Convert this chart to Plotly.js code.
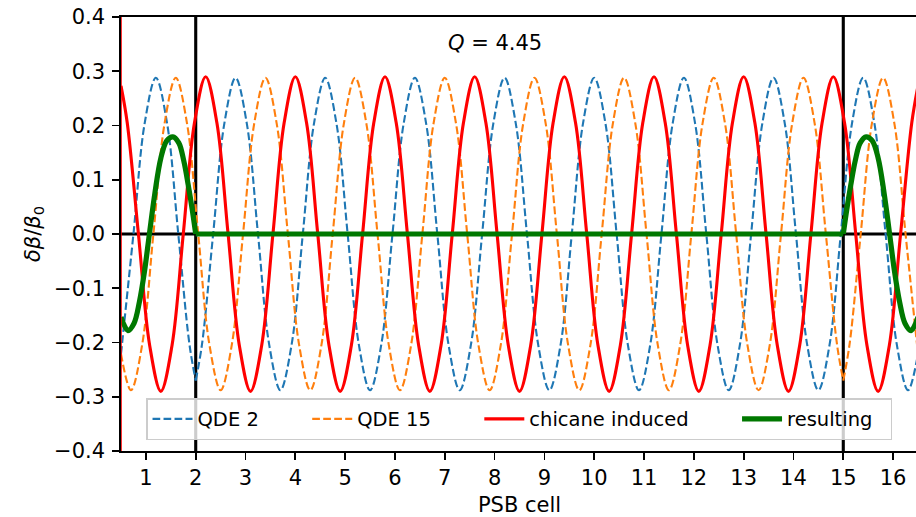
<!DOCTYPE html>
<html>
<head>
<meta charset="utf-8">
<script src="https://cdn.plot.ly/plotly-3.0.1.min.js"></script>
<style>
html, body { margin: 0; padding: 0; overflow: hidden; background: #fff; }
#chart { width: 922px; height: 517px; }
</style>
</head>
<body>
<div id="chart"></div>
<script>
// ---- data ----
const xTicks = [1, 2, 3, 4, 5, 6, 7, 8, 9, 10, 11, 12, 13, 14, 15, 16];
const yTicks = [-0.4, -0.3, -0.2, -0.1, 0.0, 0.1, 0.2, 0.3, 0.4];
const seriesNames = ['QDE 2', 'QDE 15', 'chicane induced', 'resulting'];

// QDE 2 (cusp at cell 2): left part, then right part
const qde2LeftX = [0.5, 0.75, 0.975, 1.2, 1.425, 1.65, 1.875, 2.0];
const qde2LeftY = [-0.221, 0, 0.204, 0.288, 0.204, 0, -0.204, -0.27];
const qde2RightX = [2.0, 2.125, 2.35, 2.575, 2.8, 3.025, 3.25, 3.475, 3.7, 3.925, 4.15, 4.375, 4.6, 4.825, 5.05, 5.275, 5.5, 5.725, 5.95, 6.175, 6.4, 6.625, 6.85, 7.075, 7.3, 7.525, 7.75, 7.975, 8.2, 8.425, 8.65, 8.875, 9.1, 9.325, 9.55, 9.775, 10.0, 10.225, 10.45, 10.675, 10.9, 11.125, 11.35, 11.575, 11.8, 12.025, 12.25, 12.475, 12.7, 12.925, 13.15, 13.375, 13.6, 13.825, 14.05, 14.275, 14.5, 14.725, 14.95, 15.175, 15.4, 15.625, 15.85, 16.075, 16.3, 16.5];
const qde2RightY = [-0.27, -0.204, 0, 0.204, 0.288, 0.204, 0, -0.204, -0.288, -0.204, 0, 0.204, 0.288, 0.204, 0, -0.204, -0.288, -0.204, 0, 0.204, 0.288, 0.204, 0, -0.204, -0.288, -0.204, 0, 0.204, 0.288, 0.204, 0, -0.204, -0.288, -0.204, 0, 0.204, 0.288, 0.204, 0, -0.204, -0.288, -0.204, 0, 0.204, 0.288, 0.204, 0, -0.204, -0.288, -0.204, 0, 0.204, 0.288, 0.204, 0, -0.204, -0.288, -0.204, 0, 0.204, 0.288, 0.204, 0, -0.204, -0.288, -0.221];

// QDE 15 (cusp at cell 15): left part, then right part
const qde15LeftX = [0.5, 0.7, 0.925, 1.15, 1.375, 1.6, 1.825, 2.05, 2.275, 2.5, 2.725, 2.95, 3.175, 3.4, 3.625, 3.85, 4.075, 4.3, 4.525, 4.75, 4.975, 5.2, 5.425, 5.65, 5.875, 6.1, 6.325, 6.55, 6.775, 7.0, 7.225, 7.45, 7.675, 7.9, 8.125, 8.35, 8.575, 8.8, 9.025, 9.25, 9.475, 9.7, 9.925, 10.15, 10.375, 10.6, 10.825, 11.05, 11.275, 11.5, 11.725, 11.95, 12.175, 12.4, 12.625, 12.85, 13.075, 13.3, 13.525, 13.75, 13.975, 14.2, 14.425, 14.65, 14.875, 15.0];
const qde15LeftY = [-0.221, -0.288, -0.204, 0, 0.204, 0.288, 0.204, 0, -0.204, -0.288, -0.204, 0, 0.204, 0.288, 0.204, 0, -0.204, -0.288, -0.204, 0, 0.204, 0.288, 0.204, 0, -0.204, -0.288, -0.204, 0, 0.204, 0.288, 0.204, 0, -0.204, -0.288, -0.204, 0, 0.204, 0.288, 0.204, 0, -0.204, -0.288, -0.204, 0, 0.204, 0.288, 0.204, 0, -0.204, -0.288, -0.204, 0, 0.204, 0.288, 0.204, 0, -0.204, -0.288, -0.204, 0, 0.204, 0.288, 0.204, 0, -0.204, -0.27];
const qde15RightX = [15.0, 15.125, 15.35, 15.575, 15.8, 16.025, 16.25, 16.5];
const qde15RightY = [-0.27, -0.204, 0, 0.204, 0.288, 0.204, 0, -0.221];

// chicane induced
const chicaneX = [0.5, 0.625, 0.85, 1.075, 1.3, 1.525, 1.75, 1.975, 2.2, 2.425, 2.65, 2.875, 3.1, 3.325, 3.55, 3.775, 4.0, 4.225, 4.45, 4.675, 4.9, 5.125, 5.35, 5.575, 5.8, 6.025, 6.25, 6.475, 6.7, 6.925, 7.15, 7.375, 7.6, 7.825, 8.05, 8.275, 8.5, 8.725, 8.95, 9.175, 9.4, 9.625, 9.85, 10.075, 10.3, 10.525, 10.75, 10.975, 11.2, 11.425, 11.65, 11.875, 12.1, 12.325, 12.55, 12.775, 13.0, 13.225, 13.45, 13.675, 13.9, 14.125, 14.35, 14.575, 14.8, 15.025, 15.25, 15.475, 15.7, 15.925, 16.15, 16.375, 16.5];
const chicaneY = [0.273, 0.205, 0, -0.205, -0.29, -0.205, 0, 0.205, 0.29, 0.205, 0, -0.205, -0.29, -0.205, 0, 0.205, 0.29, 0.205, 0, -0.205, -0.29, -0.205, 0, 0.205, 0.29, 0.205, 0, -0.205, -0.29, -0.205, 0, 0.205, 0.29, 0.205, 0, -0.205, -0.29, -0.205, 0, 0.205, 0.29, 0.205, 0, -0.205, -0.29, -0.205, 0, 0.205, 0.29, 0.205, 0, -0.205, -0.29, -0.205, 0, 0.205, 0.29, 0.205, 0, -0.205, -0.29, -0.205, 0, 0.205, 0.29, 0.205, 0, -0.205, -0.29, -0.205, 0, 0.205, 0.273];

// resulting: left lobe, flat middle, right lobe
const resLeftX = [0.5, 0.64, 0.76, 0.87, 0.97, 1.07, 1.18, 1.3, 1.42, 1.54, 1.66, 1.76, 1.85, 1.93, 2.0];
const resLeftY = [-0.153, -0.178, -0.165, -0.125, -0.07, 0, 0.075, 0.14, 0.172, 0.179, 0.168, 0.135, 0.09, 0.045, 0];
const resMidX = [2.0, 15.0];
const resMidY = [0, 0];
const resRightX = [15.0, 15.07, 15.15, 15.24, 15.34, 15.46, 15.58, 15.7, 15.82, 15.93, 16.03, 16.13, 16.24, 16.36, 16.5];
const resRightY = [0, 0.045, 0.09, 0.135, 0.168, 0.179, 0.172, 0.14, 0.075, 0, -0.07, -0.125, -0.165, -0.178, -0.153];

const boundaryCells = [2, 15];

// ---- build traces ----
function joinSegments(segs) {
  const x = [], y = [];
  segs.forEach((s, i) => {
    if (i > 0) { x.push(null); y.push(null); }
    x.push(...s[0]); y.push(...s[1]);
  });
  return {x, y};
}
// widen legend entries (matplotlib-like column spacing)
const NB = '\u00a0';
function padName(n, k) { return n + NB.repeat(k); }

const F = 'DejaVu Sans, Liberation Sans, sans-serif';
const q2 = joinSegments([[qde2LeftX, qde2LeftY], [qde2RightX, qde2RightY]]);
const q15 = joinSegments([[qde15LeftX, qde15LeftY], [qde15RightX, qde15RightY]]);
const res = joinSegments([[resLeftX, resLeftY], [resMidX, resMidY], [resRightX, resRightY]]);

const traces = [
  {x: q2.x, y: q2.y, name: padName(seriesNames[0], 7), mode: 'lines', connectgaps: false,
   line: {color: '#1f77b4', width: 2.1, dash: '7.7px,3.3px', shape: 'spline'}},
  {x: q15.x, y: q15.y, name: padName(seriesNames[1], 7), mode: 'lines', connectgaps: false,
   line: {color: '#ff7f0e', width: 2.1, dash: '7.7px,3.3px', shape: 'spline'}},
  {x: chicaneX, y: chicaneY, name: padName(seriesNames[2], 7), mode: 'lines',
   line: {color: '#ff0000', width: 3.1, shape: 'spline'}},
  {x: res.x, y: res.y, name: padName(seriesNames[3], 2), mode: 'lines', connectgaps: false,
   line: {color: '#007800', width: 5.2, shape: 'spline'}}
];

const shapes = [];
boundaryCells.forEach(c => shapes.push({type: 'line', xref: 'x', yref: 'y', x0: c, x1: c, y0: -0.4, y1: 0.4,
  line: {color: '#000', width: 3.1}, layer: 'below'}));
shapes.push({type: 'line', xref: 'x', yref: 'y', x0: 0.5, x1: 16.5, y0: 0, y1: 0,
  line: {color: '#000', width: 3.1}, layer: 'below'});
shapes.push({type: 'line', xref: 'x', yref: 'y', x0: 0.5, x1: 0.5, y0: -0.4, y1: 0.4,
  line: {color: '#ff0000', width: 1.6}, layer: 'above'});

const layout = {
  width: 922, height: 517,
  margin: {l: 121, r: 4, t: 17, b: 66},
  paper_bgcolor: '#fff', plot_bgcolor: '#fff',
  font: {family: F, color: '#000', size: 21},
  showlegend: true,
  xaxis: {
    range: [0.5, 16.5], tickvals: xTicks, ticktext: xTicks.map(String),
    ticks: 'outside', ticklen: 7, tickwidth: 1.7, tickcolor: '#000',
    showline: true, linecolor: '#000', linewidth: 1.7, mirror: true,
    showgrid: false, zeroline: false, tickfont: {family: F, size: 21, color: '#000'},
    title: {text: 'PSB cell', font: {family: F, size: 21, color: '#000'}, standoff: 8},
    automargin: false
  },
  yaxis: {
    range: [-0.4, 0.4], tickvals: yTicks, ticktext: yTicks.map(v => (v < 0 ? '\u2212' : '') + Math.abs(v).toFixed(1)),
    ticks: 'outside', ticklen: 7, tickwidth: 1.7, tickcolor: '#000',
    showline: true, linecolor: '#000', linewidth: 1.7, mirror: true,
    showgrid: false, zeroline: false, tickfont: {family: F, size: 21, color: '#000'},
    ticklabelstandoff: 3,
    title: {text: '<i>δβ</i>/<i>β</i><sub>0</sub>', font: {family: F, size: 21, color: '#000'}, standoff: 8},
    automargin: false
  },
  legend: {
    orientation: 'h', x: 0.0314, xanchor: 'left', y: 0.025, yanchor: 'bottom',
    bgcolor: 'rgba(255,255,255,0.8)', bordercolor: '#cccccc', borderwidth: 1.5,
    font: {family: F, size: 19.5, color: '#000'}, itemwidth: 40
  },
  annotations: [{
    xref: 'x', yref: 'y', x: 8, y: 0.352, text: '<i>Q</i> = 4.45', showarrow: false,
    font: {family: F, size: 21, color: '#000'}, xanchor: 'center', yanchor: 'middle'
  }],
  shapes: shapes
};

Plotly.newPlot('chart', traces, layout, {displayModeBar: false, staticPlot: true});
</script>
</body>
</html>
